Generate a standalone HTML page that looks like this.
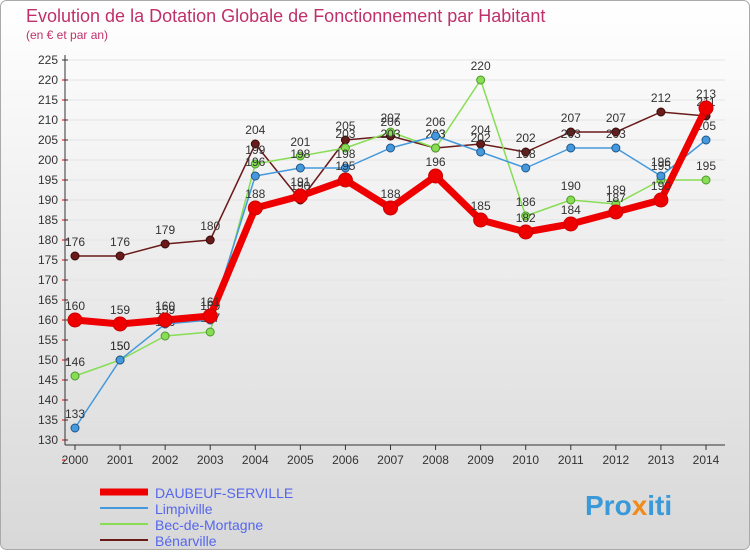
<!DOCTYPE html>
<html><head><meta charset="utf-8"><style>
body{margin:0;width:750px;height:550px;overflow:hidden;font-family:"Liberation Sans","DejaVu Sans",sans-serif}
</style></head><body>
<svg id="c" width="750" height="550">
<defs><linearGradient id="bg" x1="0" y1="0" x2="0" y2="1"><stop offset="0" stop-color="#ffffff"/><stop offset="1" stop-color="#d8d8d8"/></linearGradient></defs>
<rect x="0.5" y="0.5" width="749" height="549" rx="6" fill="url(#bg)" stroke="#aaa"/>
<text x="26" y="22" font-size="18" fill="#c0306a">Evolution de la Dotation Globale de Fonctionnement par Habitant</text>
<text x="26" y="39" font-size="12" fill="#c0306a">(en € et par an)</text>
<g id="g"></g>
<text x="585" y="515" font-size="28" font-weight="bold" fill="#3a9ad9">Pro<tspan fill="#f08a1c">x</tspan>iti</text>
</svg>
<script>
const years=["2000","2001","2002","2003","2004","2005","2006","2007","2008","2009","2010","2011","2012","2013","2014"];
const yTicks=[130,135,140,145,150,155,160,165,170,175,180,185,190,195,200,205,210,215,220,225];
const daubeuf=[160,159,160,161,188,191,195,188,196,185,182,184,187,190,213];
const limpiville=[133,150,159,160,196,198,198,203,206,202,198,203,203,196,205];
const bec=[146,150,156,157,199,201,203,207,203,220,186,190,189,195,195];
const benarville=[176,176,179,180,204,190,205,206,203,204,202,207,207,212,211];
const ns="http://www.w3.org/2000/svg",g=document.getElementById('g');
const X=i=>75+i*(706-75)/14, Y=v=>60+(225-v)*(440-60)/95;
function mk(t,a,p){const e=document.createElementNS(ns,t);for(const k in a)e.setAttribute(k,a[k]);(p||g).appendChild(e);return e;}
yTicks.forEach(v=>{
 const l=mk('line',{x1:65,x2:725,y1:Y(v),y2:Y(v),stroke:'#e4e4e4'});
 
 
 const t=mk('text',{x:58,y:Y(v)+4,'font-size':12,'text-anchor':'end',fill:'#333'});t.textContent=v;
 
 
 mk('line',{x1:62,x2:68,y1:Y(v),y2:Y(v),stroke:'#333'});
 mk('line',{x1:62,x2:65,y1:Y(v)+20,y2:Y(v)+20,stroke:'#e00'});
});
mk('line',{x1:65,x2:65,y1:55,y2:445,stroke:'#333'});
mk('line',{x1:65,x2:725,y1:445,y2:445,stroke:'#333'});
years.forEach((y,i)=>{
 mk('line',{x1:X(i),x2:X(i),y1:445,y2:450,stroke:'#333'});
 const t=mk('text',{x:X(i),y:464,'font-size':12,'text-anchor':'middle',fill:'#333'});t.textContent=y;
 
 
});
function series(d,col,w,r,name,dark){
 const s=mk('g',{});
 
 
 mk('polyline',{points:d.map((v,i)=>X(i)+','+Y(v)).join(' '),fill:'none',stroke:col,'stroke-width':w,'stroke-linejoin':'round'},s);
 d.forEach((v,i)=>{
  const c=mk('circle',{cx:X(i),cy:Y(v),r:r,fill:col,stroke:dark,'stroke-width':1},s);
  
  
  const t=mk('text',{x:X(i),y:Y(v)-10,'font-size':12,'text-anchor':'middle',fill:'#333'},s);t.textContent=v;
  
  
 });
}
series(benarville,'#6b1a1a',1.5,4,'benarville','#3a0a0a');
series(bec,'#88dd55',1.5,4,'bec-de-mortagne','#4a9a2a');
series(limpiville,'#4499dd',1.5,4,'limpiville','#225588');
series(daubeuf,'#ee0000',7,7,'daubeuf-serville','#cc0000');
const leg=[["DAUBEUF-SERVILLE","#ee0000",7],["Limpiville","#4499dd",2],["Bec-de-Mortagne","#88dd55",2],["Bénarville","#6b1a1a",2]];
leg.forEach((l,i)=>{
 const yy=492+i*16;
 const e=mk('g',{});
 
 
 mk('line',{x1:100,x2:148,y1:yy,y2:yy,stroke:l[1],'stroke-width':l[2]},e);
 const t=mk('text',{x:155,y:yy+6,'font-size':14,fill:'#5566ee'},e);t.textContent=l[0];
});
</script>
</body></html>
